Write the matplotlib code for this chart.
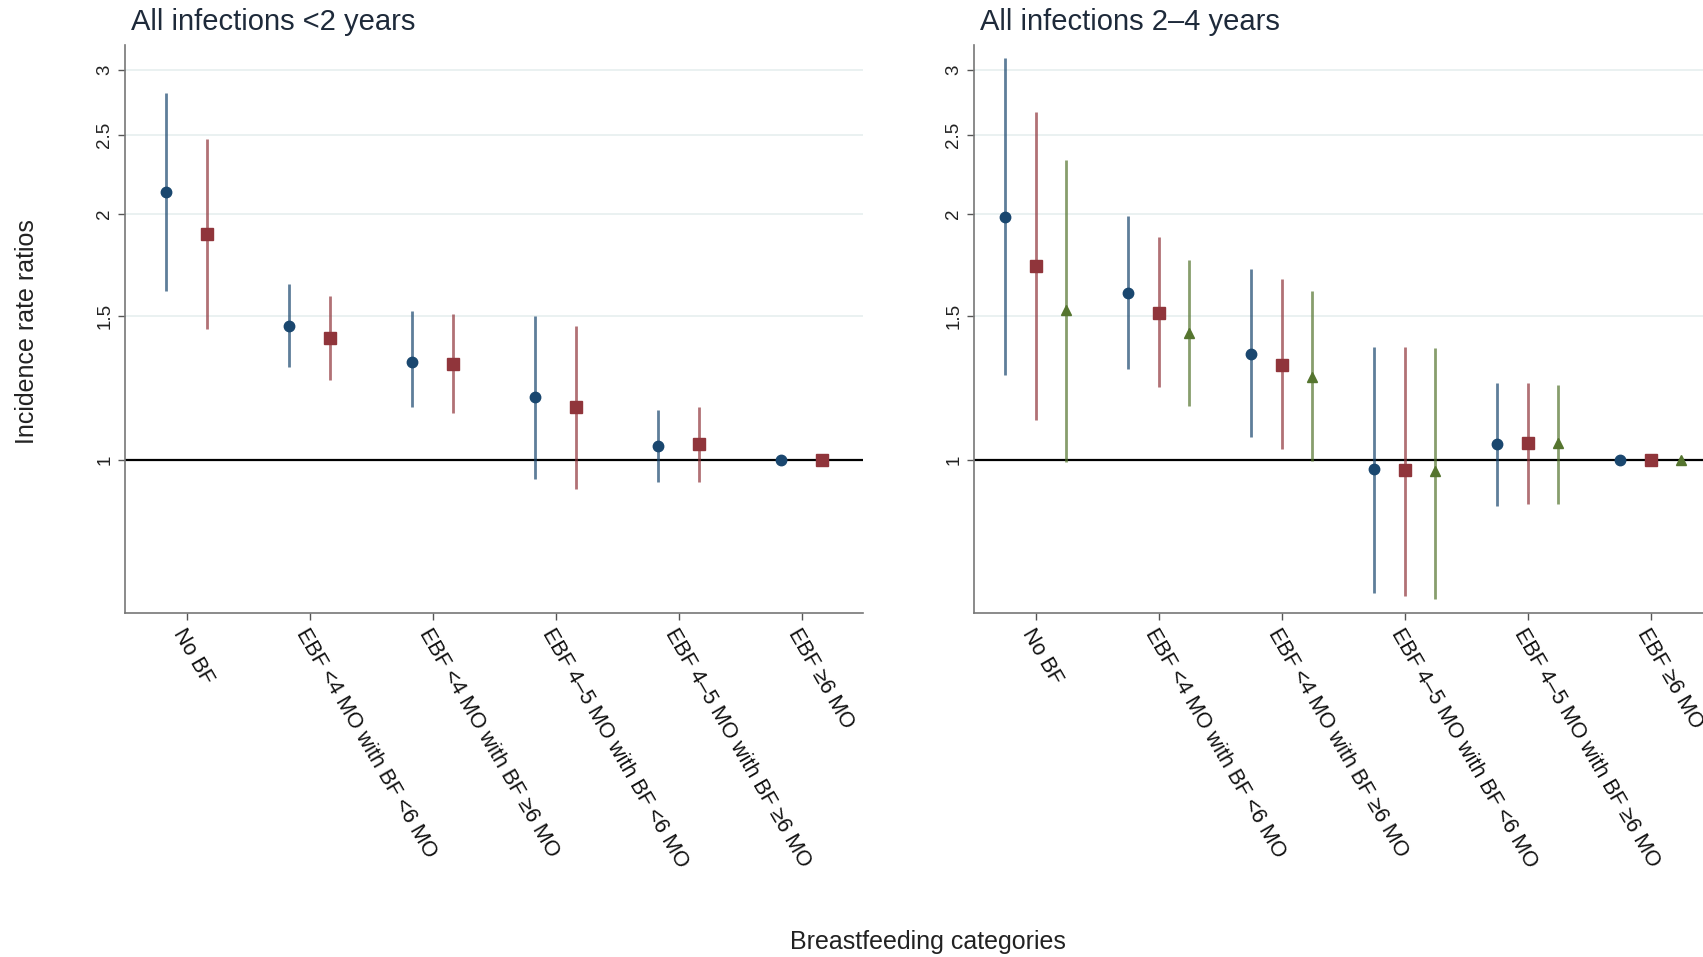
import matplotlib
matplotlib.use('Agg')
import matplotlib.pyplot as plt
import numpy as np

plt.rcParams['font.family'] = ['Liberation Sans', 'DejaVu Sans']

# Breastfeeding categories (x axis)
categories = [
    "No BF",
    "EBF <4 MO with BF <6 MO",
    "EBF <4 MO with BF \u22656 MO",
    "EBF 4\u20135 MO with BF <6 MO",
    "EBF 4\u20135 MO with BF \u22656 MO",
    "EBF \u22656 MO",
]

# Panel 1: all infections <2 years (two models)
lt2_irr_a = [2.13, 1.46, 1.32, 1.195, 1.04, 1.0]
lt2_lo_a = [1.61, 1.30, 1.16, 0.947, 0.94, 1.0]
lt2_hi_a = [2.81, 1.64, 1.52, 1.50, 1.15, 1.0]
lt2_irr_b = [1.89, 1.41, 1.31, 1.16, 1.045, 1.0]
lt2_lo_b = [1.445, 1.253, 1.143, 0.921, 0.94, 1.0]
lt2_hi_b = [2.47, 1.587, 1.509, 1.458, 1.16, 1.0]

# Panel 2: all infections 2-4 years (three models)
y24_irr_a = [1.985, 1.602, 1.35, 0.974, 1.046, 1.0]
y24_lo_a = [1.27, 1.291, 1.068, 0.687, 0.878, 1.0]
y24_hi_a = [3.10, 1.988, 1.711, 1.376, 1.241, 1.0]
y24_irr_b = [1.729, 1.512, 1.306, 0.972, 1.048, 1.0]
y24_lo_b = [1.119, 1.227, 1.031, 0.682, 0.883, 1.0]
y24_hi_b = [2.667, 1.876, 1.664, 1.376, 1.241, 1.0]
y24_irr_c = [1.526, 1.429, 1.265, 0.970, 1.048, 1.0]
y24_lo_c = [0.995, 1.164, 0.998, 0.677, 0.883, 1.0]
y24_hi_c = [2.328, 1.757, 1.61, 1.372, 1.235, 1.0]

yticks = [1, 1.5, 2, 2.5, 3]
ytick_labels = ["1", "1.5", "2", "2.5", "3"]

blue = "#1a476f"
red = "#90353b"
green = "#55752f"

fig = plt.figure(figsize=(17.03, 9.57), dpi=100)
ax1 = fig.add_axes([0.0734, 0.3595, 0.4334, 0.5935])
ax2 = fig.add_axes([0.572, 0.3595, 0.4334, 0.5935])


def draw_series(ax, offset, irr, lo, hi, color, marker, ms):
    x = np.arange(1, len(irr) + 1) + offset
    ax.vlines(x, lo, hi, color=color, lw=2.0, alpha=0.7, zorder=3)
    ax.plot(x, irr, linestyle="none", marker=marker, color=color,
            markersize=ms, zorder=4)


def style_axes(ax, title):
    ax.set_yscale("log")
    ax.set_ylim(0.65, 3.22)
    ax.set_xlim(0.5, 6.5)
    for y in yticks[1:]:
        ax.axhline(y, color="#e6efef", lw=1.2, zorder=1)
    ax.axhline(1, color="black", lw=1.6, zorder=2)
    ax.set_yticks(yticks)
    ax.set_yticklabels(ytick_labels, rotation=90, va="center")
    ax.minorticks_off()
    ax.set_xticks(np.arange(1, 7))
    ax.set_xticklabels(categories, rotation=-60, ha="left", va="top",
                       rotation_mode="anchor", fontsize=15.5)
    ax.tick_params(axis="y", labelsize=13.5, colors="#555555",
                   labelcolor="#222222", length=5, width=1)
    ax.tick_params(axis="x", colors="#555555", labelcolor="#111111",
                   length=5, width=1, pad=4)
    for side in ["top", "right"]:
        ax.spines[side].set_visible(False)
    for side in ["left", "bottom"]:
        ax.spines[side].set_color("#777777")
        ax.spines[side].set_linewidth(1.2)
    ax.text(0.008, 1.041, title, transform=ax.transAxes, fontsize=21,
            color="#1e2a3a", ha="left", va="center")


style_axes(ax1, "All infections <2 years")
draw_series(ax1, -0.167, lt2_irr_a, lt2_lo_a, lt2_hi_a, blue, "o", 7.5)
draw_series(ax1, 0.167, lt2_irr_b, lt2_lo_b, lt2_hi_b, red, "s", 8)

style_axes(ax2, "All infections 2\u20134 years")
draw_series(ax2, -0.25, y24_irr_a, y24_lo_a, y24_hi_a, blue, "o", 7.5)
draw_series(ax2, 0.0, y24_irr_b, y24_lo_b, y24_hi_b, red, "s", 8)
draw_series(ax2, 0.25, y24_irr_c, y24_lo_c, y24_hi_c, green, "^", 7.5)

fig.text(0.016, 0.654, "Incidence rate ratios", rotation=90, fontsize=18,
         ha="center", va="center", color="#222222")
fig.text(0.545, 0.016, "Breastfeeding categories", fontsize=18,
         ha="center", va="center", color="#222222")

fig.savefig("out.png", dpi=100)
